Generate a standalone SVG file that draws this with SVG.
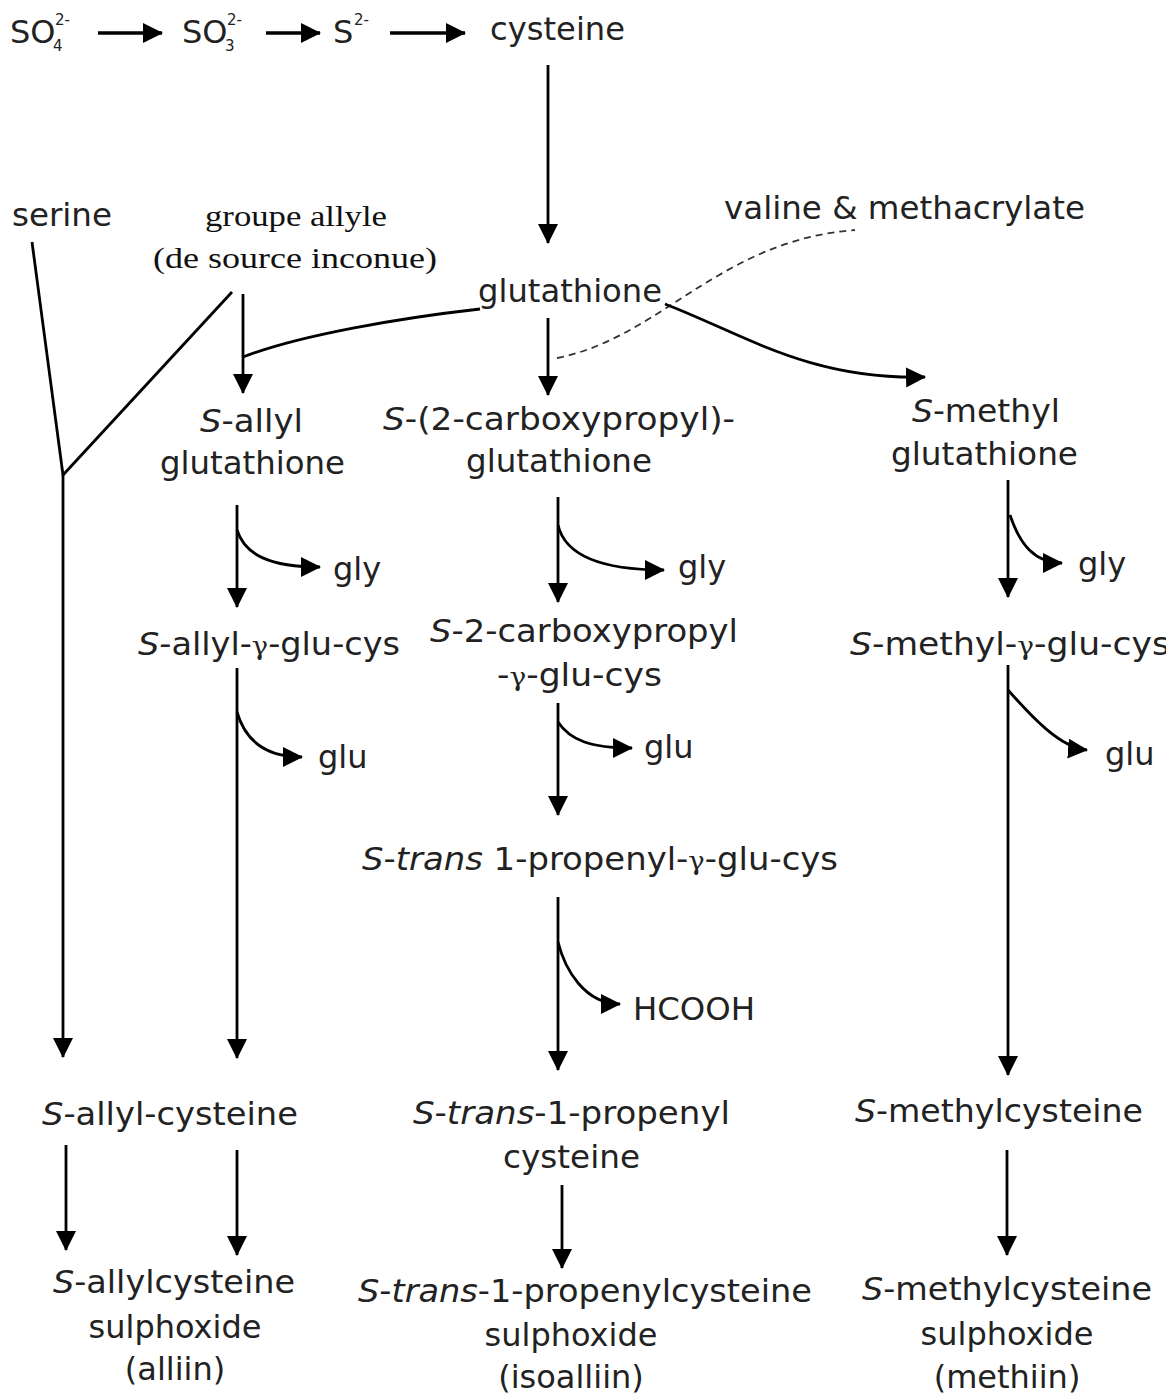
<svg xmlns="http://www.w3.org/2000/svg" width="1166" height="1394" viewBox="0 0 1166 1394">
<defs>
<marker id="ah" markerUnits="userSpaceOnUse" markerWidth="22" markerHeight="22" refX="19" refY="10" orient="auto">
<path d="M0,0 L20,10 L0,20 Z" fill="#000"/>
</marker>
<style>
.t{font-family:"DejaVu Sans","Verdana",sans-serif;font-size:32px;fill:#222}
.s{font-family:"DejaVu Sans",sans-serif;font-size:15px;fill:#222}
.r{font-family:"Liberation Serif","Times New Roman",serif;font-size:30px;fill:#111}
.g{font-family:"DejaVu Serif",serif;font-size:26px}
.i{font-style:italic}
.c{fill:none;stroke:#000;stroke-width:2.8}
.a{fill:none;stroke:#000;stroke-width:2.8;marker-end:url(#ah)}
.a3{fill:none;stroke:#000;stroke-width:3.6;marker-end:url(#ah)}
.d{fill:none;stroke:#333;stroke-width:1.8;stroke-dasharray:7 5}
</style>
</defs>
<rect width="1166" height="1394" fill="#fff"/>

<g id="connectors">
<line class="a3" x1="98" y1="33" x2="162" y2="33"/>
<line class="a3" x1="266" y1="33" x2="320" y2="33"/>
<line class="a3" x1="390" y1="33" x2="465" y2="33"/>
<line class="a" x1="548" y1="65" x2="548" y2="243"/>
<line class="a" x1="548" y1="318" x2="548" y2="395"/>
<path class="d" d="M557,358 C660,338 720,240 855,230"/>
<path class="c" d="M480,309 C400,318 300,335 243,357"/>
<path class="a" d="M665,304 C745,335 810,380 925,377"/>
<line class="a" x1="243" y1="294" x2="243" y2="393"/>
<line class="c" x1="232" y1="292" x2="63" y2="475"/>
<line class="c" x1="32" y1="242" x2="63" y2="475"/>
<line class="a" x1="63" y1="474" x2="63" y2="1057"/>

<line class="a" x1="237" y1="505" x2="237" y2="607"/>
<path class="a" d="M237,530 C245,555 270,567 320,567"/>
<line class="a" x1="237" y1="668" x2="237" y2="1058"/>
<path class="a" d="M237,712 C245,740 265,757 302,757"/>

<line class="a" x1="558" y1="497" x2="558" y2="602"/>
<path class="a" d="M558,525 C565,555 600,570 664,570"/>
<line class="a" x1="558" y1="703" x2="558" y2="815"/>
<path class="a" d="M558,722 C570,740 590,748 632,748"/>
<line class="a" x1="558" y1="897" x2="558" y2="1070"/>
<path class="a" d="M558,942 C565,970 585,1004 620,1004"/>
<line class="a" x1="562" y1="1185" x2="562" y2="1268"/>

<line class="a" x1="1008" y1="480" x2="1008" y2="597"/>
<path class="a" d="M1010,515 C1020,545 1035,563 1062,563"/>
<line class="a" x1="1008" y1="665" x2="1008" y2="1075"/>
<path class="a" d="M1008,690 C1030,715 1060,748 1087,750"/>
<line class="a" x1="1007" y1="1150" x2="1007" y2="1255"/>

<line class="a" x1="66" y1="1145" x2="66" y2="1250"/>
<line class="a" x1="237" y1="1150" x2="237" y2="1255"/>
</g>

<g id="sulfate"><text class="t" x="10" y="43">SO</text><text class="s" x="53" y="51">4</text><text class="s" x="55" y="25">2-</text></g>
<g id="sulfite"><text class="t" x="182" y="43">SO</text><text class="s" x="225" y="51">3</text><text class="s" x="227" y="25">2-</text></g>
<g id="sulfide"><text class="t" x="333" y="43">S</text><text class="s" x="354" y="25">2-</text></g>
<g id="cysteine"><text class="t" x="490" y="40" textLength="135" lengthAdjust="spacingAndGlyphs">cysteine</text></g>
<g id="serine"><text class="t" x="12" y="226" textLength="100" lengthAdjust="spacingAndGlyphs">serine</text></g>
<g id="allyl-group">
<text class="r" x="296" y="226" text-anchor="middle" textLength="182" lengthAdjust="spacingAndGlyphs">groupe allyle</text>
<text class="r" x="295" y="268" text-anchor="middle" textLength="284" lengthAdjust="spacingAndGlyphs">(de source inconue)</text>
</g>
<g id="valine"><text class="t" x="724" y="219" textLength="361" lengthAdjust="spacingAndGlyphs">valine &amp; methacrylate</text></g>
<g id="glutathione"><text class="t" x="478" y="302" textLength="184" lengthAdjust="spacingAndGlyphs">glutathione</text></g>

<g id="s-allyl-glutathione">
<text class="t" x="200" y="432" textLength="103" lengthAdjust="spacingAndGlyphs"><tspan class="i">S</tspan>-allyl</text>
<text class="t" x="160" y="474" textLength="185" lengthAdjust="spacingAndGlyphs">glutathione</text>
</g>
<g id="s-carboxypropyl-glutathione">
<text class="t" x="383" y="430" textLength="352" lengthAdjust="spacingAndGlyphs"><tspan class="i">S</tspan>-(2-carboxypropyl)-</text>
<text class="t" x="466" y="472" textLength="186" lengthAdjust="spacingAndGlyphs">glutathione</text>
</g>
<g id="s-methyl-glutathione">
<text class="t" x="912" y="422" textLength="148" lengthAdjust="spacingAndGlyphs"><tspan class="i">S</tspan>-methyl</text>
<text class="t" x="891" y="465" textLength="187" lengthAdjust="spacingAndGlyphs">glutathione</text>
</g>

<g id="gly1"><text class="t" x="333" y="580">gly</text></g>
<g id="gly2"><text class="t" x="678" y="578">gly</text></g>
<g id="gly3"><text class="t" x="1078" y="575">gly</text></g>

<g id="s-allyl-gglucys"><text class="t" x="138" y="655" textLength="262" lengthAdjust="spacingAndGlyphs"><tspan class="i">S</tspan>-allyl-<tspan class="g">γ</tspan>-glu-cys</text></g>
<g id="s-carboxypropyl-gglucys">
<text class="t" x="430" y="642" textLength="308" lengthAdjust="spacingAndGlyphs"><tspan class="i">S</tspan>-2-carboxypropyl</text>
<text class="t" x="497" y="686" textLength="165" lengthAdjust="spacingAndGlyphs">-<tspan class="g">γ</tspan>-glu-cys</text>
</g>
<g id="s-methyl-gglucys"><text class="t" x="850" y="655" textLength="320" lengthAdjust="spacingAndGlyphs"><tspan class="i">S</tspan>-methyl-<tspan class="g">γ</tspan>-glu-cys</text></g>

<g id="glu1"><text class="t" x="318" y="768">glu</text></g>
<g id="glu2"><text class="t" x="644" y="758">glu</text></g>
<g id="glu3"><text class="t" x="1105" y="765">glu</text></g>

<g id="s-trans-propenyl-gglucys"><text class="t" x="362" y="870" textLength="476" lengthAdjust="spacingAndGlyphs"><tspan class="i">S</tspan>-<tspan class="i">trans</tspan> 1-propenyl-<tspan class="g">γ</tspan>-glu-cys</text></g>
<g id="hcooh"><text class="t" x="633" y="1020" textLength="122" lengthAdjust="spacingAndGlyphs">HCOOH</text></g>

<g id="s-allyl-cysteine"><text class="t" x="42" y="1125" textLength="256" lengthAdjust="spacingAndGlyphs"><tspan class="i">S</tspan>-allyl-cysteine</text></g>
<g id="s-trans-propenyl-cysteine">
<text class="t" x="413" y="1124" textLength="317" lengthAdjust="spacingAndGlyphs"><tspan class="i">S</tspan>-<tspan class="i">trans</tspan>-1-propenyl</text>
<text class="t" x="503" y="1168" textLength="137" lengthAdjust="spacingAndGlyphs">cysteine</text>
</g>
<g id="s-methylcysteine"><text class="t" x="855" y="1122" textLength="288" lengthAdjust="spacingAndGlyphs"><tspan class="i">S</tspan>-methylcysteine</text></g>

<g id="alliin">
<text class="t" x="53" y="1293" textLength="242" lengthAdjust="spacingAndGlyphs"><tspan class="i">S</tspan>-allylcysteine</text>
<text class="t" x="175" y="1338" text-anchor="middle">sulphoxide</text>
<text class="t" x="175" y="1380" text-anchor="middle">(alliin)</text>
</g>
<g id="isoalliin">
<text class="t" x="358" y="1302" textLength="454" lengthAdjust="spacingAndGlyphs"><tspan class="i">S</tspan>-<tspan class="i">trans</tspan>-1-propenylcysteine</text>
<text class="t" x="571" y="1346" text-anchor="middle">sulphoxide</text>
<text class="t" x="571" y="1388" text-anchor="middle">(isoalliin)</text>
</g>
<g id="methiin">
<text class="t" x="862" y="1300" textLength="290" lengthAdjust="spacingAndGlyphs"><tspan class="i">S</tspan>-methylcysteine</text>
<text class="t" x="1007" y="1345" text-anchor="middle">sulphoxide</text>
<text class="t" x="1007" y="1388" text-anchor="middle">(methiin)</text>
</g>
</svg>
